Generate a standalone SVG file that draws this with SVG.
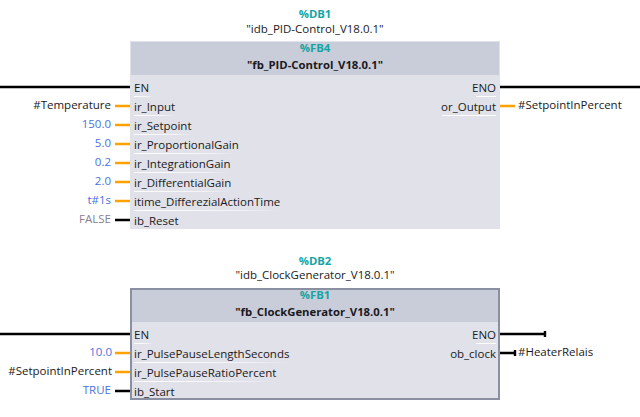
<svg xmlns="http://www.w3.org/2000/svg" width="640" height="417" viewBox="0 0 640 417">
<defs>
<linearGradient id="fade"><stop offset="0" stop-color="#fff"/><stop offset=".7" stop-color="#f4f4f8"/><stop offset="1" stop-color="#e0e1e9"/></linearGradient>
</defs>
<style>
text{font-family:"Open Sans","Noto Sans","Liberation Sans",sans-serif;font-size:11.5px;fill:#1a1a22}
.c{text-anchor:middle}
.e{text-anchor:end}
.b{font-weight:700;font-size:11.3px}
.id{fill:#12a5a5;font-weight:700;font-size:11.3px}
.v{fill:#4a72e0}
.g{fill:#8a8090}
.body{fill:#e0e1e9}
.head{fill:#c9ccd9}
.u{fill:url(#fade)}
.k{stroke:#000;stroke-width:2.4;fill:none}
.o{stroke:#ffa200;stroke-width:2.4;fill:none}
</style>
<g id="connectors">
<path class="k" d="M0 87H130M500 87H640M115 220H130M0 334H130M500 334H545M545 331V337M500 353H515M515 350V356M115 391H130"/>
<path class="o" d="M115 106H130M115 125H130M115 144H130M115 163H130M115 182H130M115 201H130M500 106H515M115 353H130M115 372H130"/>
</g>
<g id="db1"><text class="c id" x="315" y="18">%DB1</text><text class="c" x="315" y="33">"idb_PID-Control_V18.0.1"</text></g>
<g id="fb4">
<rect class="body" x="130" y="41" width="370" height="188"/>
<rect class="head" x="131" y="42" width="368" height="33"/>
<text class="c id" x="315" y="52">%FB4</text>
<text class="c b" x="315" y="69">"fb_PID-Control_V18.0.1"</text>
<rect class="u" x="134" y="96" width="19" height="1"/><rect class="u" x="134" y="115" width="41" height="1"/><rect class="u" x="134" y="134" width="60" height="1"/><rect class="u" x="134" y="153" width="103" height="1"/><rect class="u" x="134" y="172" width="97" height="1"/><rect class="u" x="134" y="191" width="97" height="1"/><rect class="u" x="134" y="210" width="146" height="1"/>
<rect fill="#fff" x="476" y="96" width="20" height="1"/><rect fill="#fff" x="442" y="115" width="54" height="1"/>
<text x="134" y="92">EN</text><text x="134" y="111">ir_Input</text><text x="134" y="130">ir_Setpoint</text><text x="134" y="149">ir_ProportionalGain</text><text x="134" y="168">ir_IntegrationGain</text><text x="134" y="187">ir_DifferentialGain</text><text x="134" y="206">itime_DifferezialActionTime</text><text x="134" y="225">ib_Reset</text>
<text class="e" x="496" y="92">ENO</text><text class="e" x="496" y="111">or_Output</text>
</g>
<g id="args1">
<text class="e" x="111" y="109">#Temperature</text>
<text class="e v" x="111" y="128">150.0</text>
<text class="e v" x="111" y="147">5.0</text>
<text class="e v" x="111" y="166">0.2</text>
<text class="e v" x="111" y="185">2.0</text>
<text class="e v" x="111" y="204">t#1s</text>
<text class="e g" x="111" y="223">FALSE</text>
<text x="518" y="109">#SetpointInPercent</text>
</g>
<g id="db2"><text class="c id" x="315" y="265">%DB2</text><text class="c" x="315" y="279">"idb_ClockGenerator_V18.0.1"</text></g>
<g id="fb1">
<rect class="body" x="131" y="289" width="368" height="110" stroke="#8a90a2" stroke-width="2"/>
<rect class="head" x="132" y="290" width="366" height="32"/>
<text class="c id" x="315" y="299">%FB1</text>
<text class="c b" x="315" y="316">"fb_ClockGenerator_V18.0.1"</text>
<rect class="u" x="134" y="343" width="19" height="1"/><rect class="u" x="134" y="362" width="159" height="1"/><rect class="u" x="134" y="381" width="143" height="1"/>
<rect fill="#fff" x="476" y="343" width="20" height="1"/>
<text x="134" y="339">EN</text><text x="134" y="358">ir_PulsePauseLengthSeconds</text><text x="134" y="377">ir_PulsePauseRatioPercent</text><text x="134" y="396">ib_Start</text>
<text class="e" x="496" y="339">ENO</text><text class="e" x="496" y="358">ob_clock</text>
</g>
<g id="args2">
<text class="e v" x="112" y="356">10.0</text>
<text class="e" x="112" y="375">#SetpointInPercent</text>
<text class="e v" x="111" y="394">TRUE</text>
<text x="518" y="356">#HeaterRelais</text>
</g>
</svg>
